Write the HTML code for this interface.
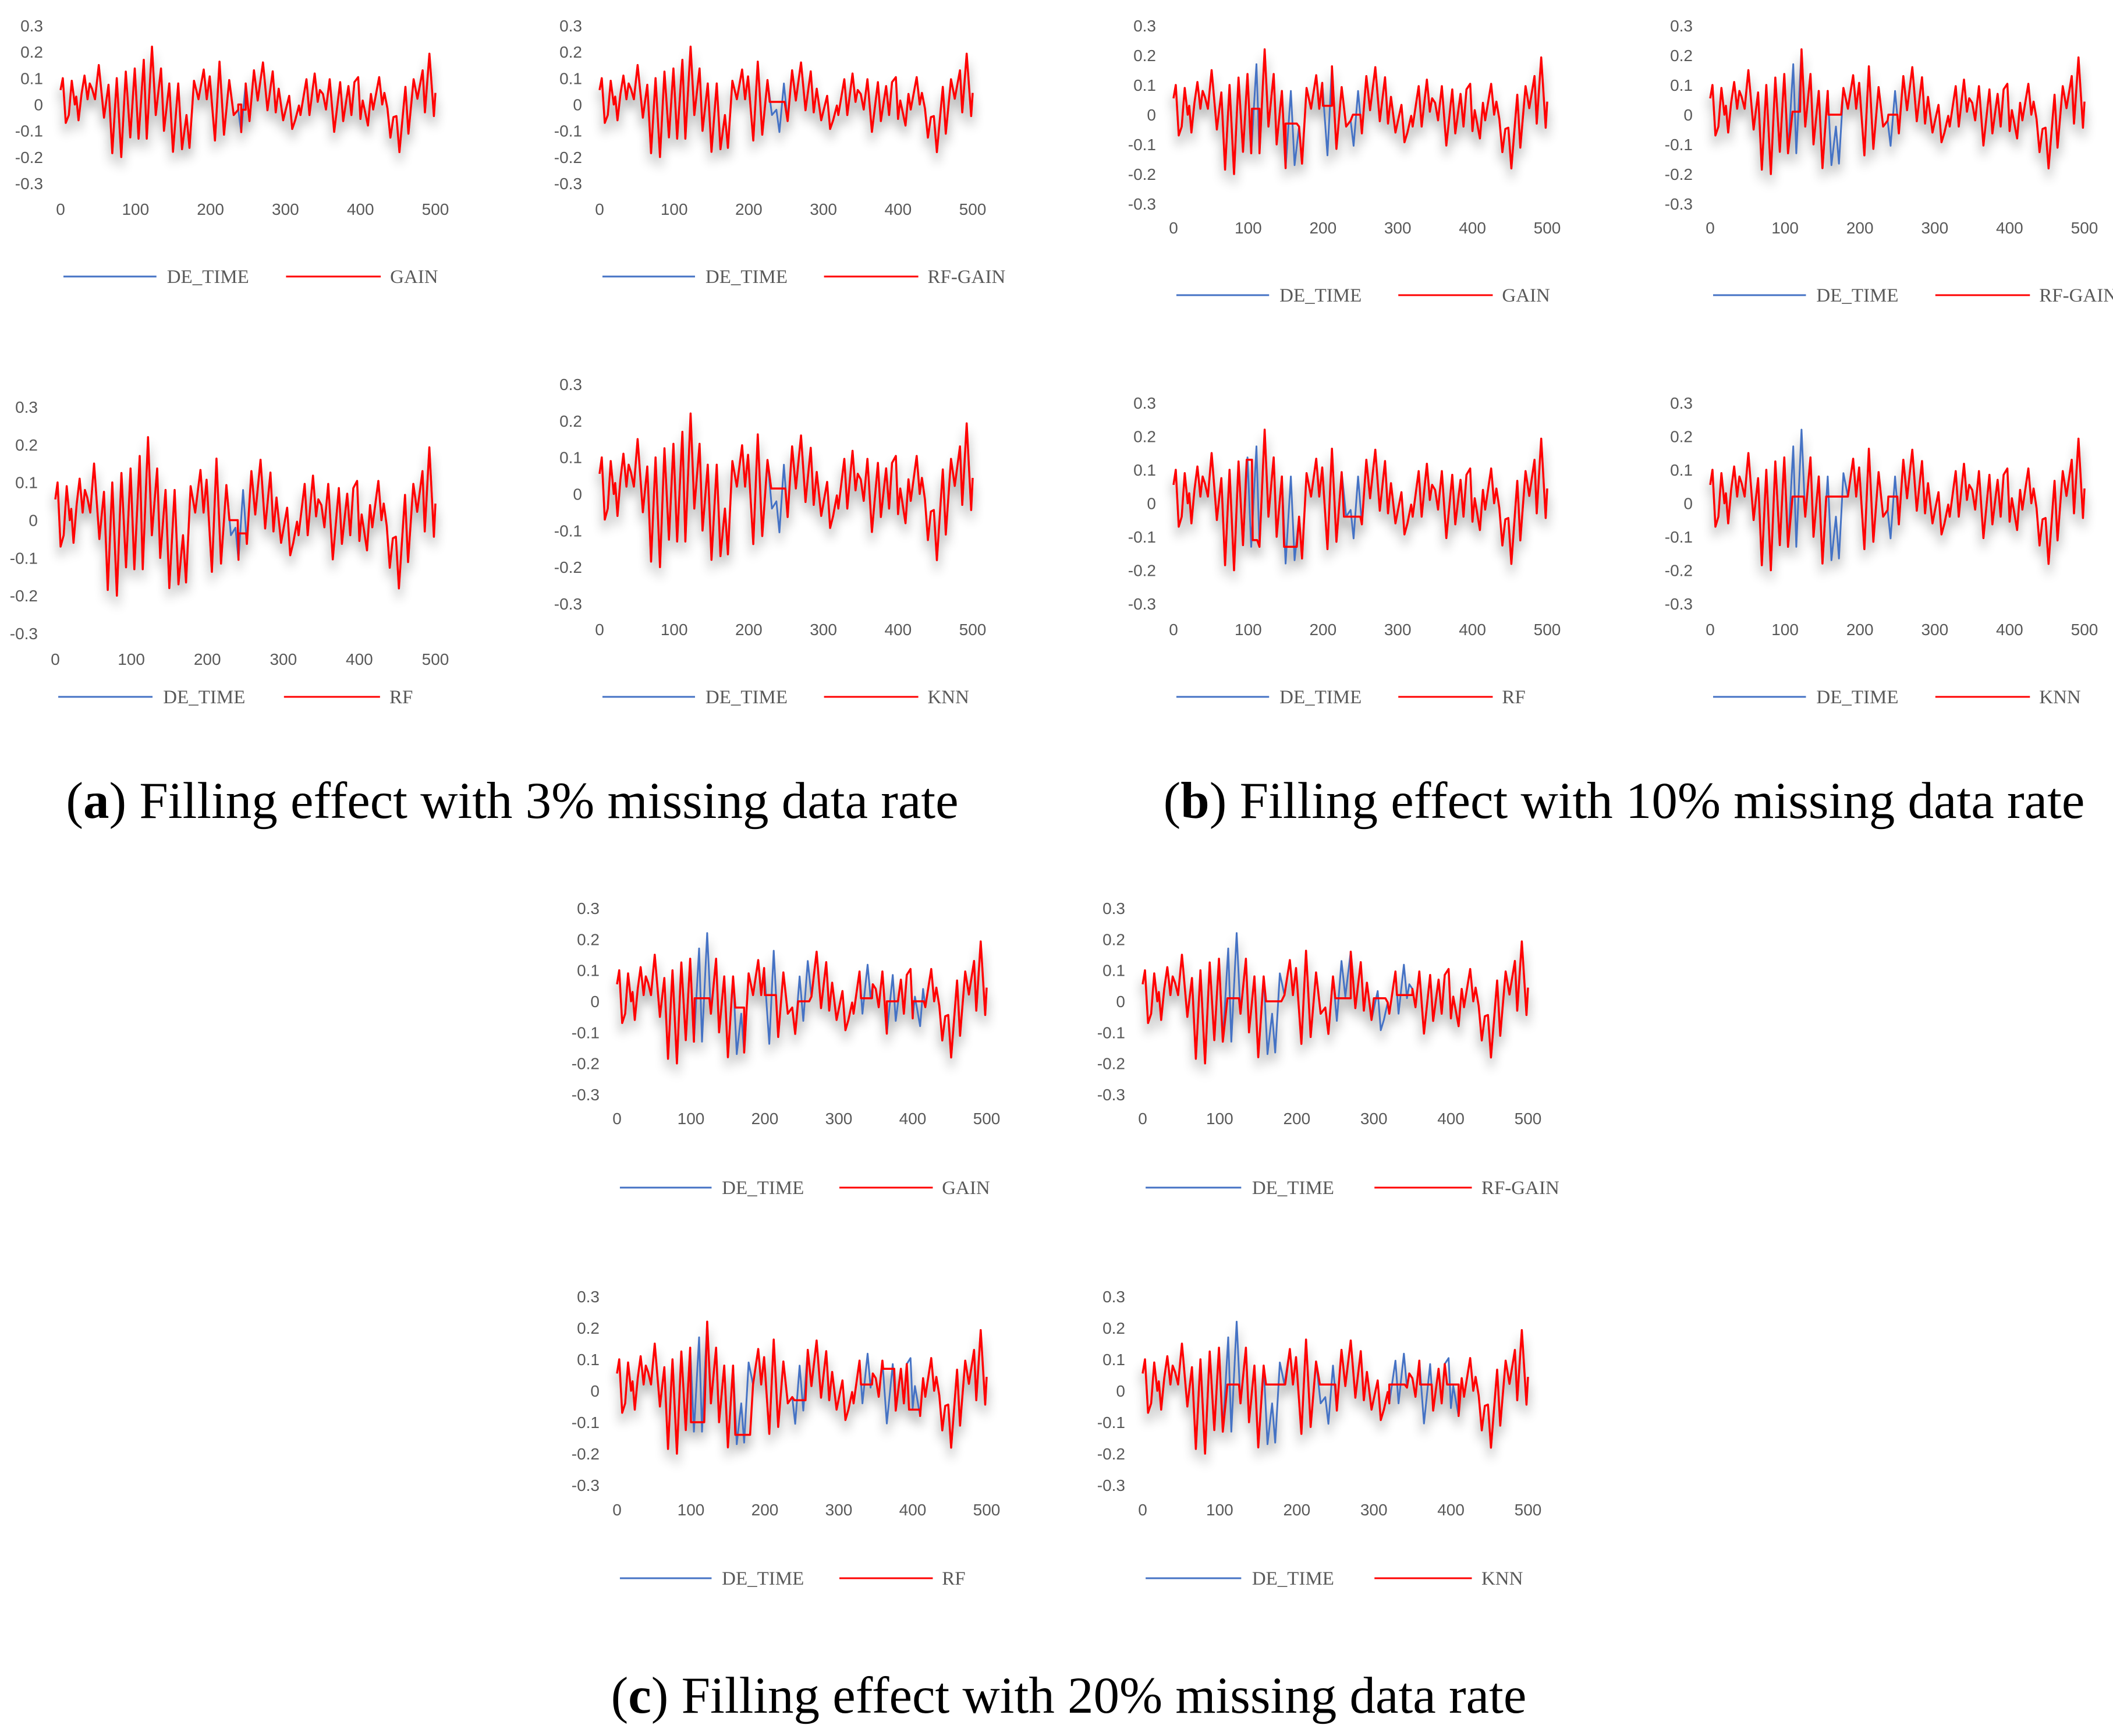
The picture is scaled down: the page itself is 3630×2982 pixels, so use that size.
<!DOCTYPE html>
<html><head><meta charset="utf-8">
<style>
html,body{margin:0;padding:0;background:#fff;}
svg{display:block;}
.tick{font-family:"Liberation Sans",sans-serif;font-size:28px;fill:#595959;}
.leg{font-family:"Liberation Serif",serif;font-size:33px;fill:#595959;}
.cap{font-family:"Liberation Serif",serif;font-size:89px;fill:#000;}
</style></head>
<body>
<svg id="fig" width="3630" height="2982" viewBox="0 0 3630 2982" xmlns="http://www.w3.org/2000/svg">
<defs>
<filter id="shadow" x="-10%" y="-30%" width="120%" height="170%">
<feDropShadow dx="0" dy="16" stdDeviation="9" flood-color="#000" flood-opacity="0.45"/>
</filter>
</defs>
<text class="cap" x="880" y="1405" text-anchor="middle">(<tspan font-weight="bold">a</tspan>) Filling effect with 3% missing data rate</text>
<text class="cap" x="2790" y="1405" text-anchor="middle">(<tspan font-weight="bold">b</tspan>) Filling effect with 10% missing data rate</text>
<text class="cap" x="1836" y="2942" text-anchor="middle">(<tspan font-weight="bold">c</tspan>) Filling effect with 20% missing data rate</text>
</svg>
<script>
// DE_TIME signal (sample index, value)
const sampleX=[0,3,7,11,15,19,21,24,28,32,36,39,42,46,51,58,64,69,75,81,87,93,99,104,111,115,122,127,134,138,145,150,157,162,168,172,178,184,191,195,199,206,212,218,225,231,237,241,247,252,258,263,270,276,283,287,291,297,305,309,313,318,320,328,332,339,343,346,350,354,359,365,373,377,384,388,392,397,400,403,410,414,417,425,429,432,436,440,444,448,452,460,464,471,476,483,486,492,498,500];
const deTime=[0.055,0.10,-0.07,-0.04,0.09,0,0.03,-0.06,0.04,0.11,0.02,0.08,0.06,0.02,0.15,-0.05,0.075,-0.185,0.10,-0.20,0.125,-0.125,0.137,-0.13,0.17,-0.13,0.22,-0.04,0.137,-0.10,0.08,-0.18,0.08,-0.17,-0.04,-0.165,0.09,0.02,0.133,0.02,0.107,-0.137,0.163,-0.115,0.093,-0.04,-0.02,-0.105,0.08,-0.063,0.13,0.015,0.16,-0.022,0.126,-0.03,0.06,-0.06,0.033,-0.093,-0.06,-0.004,-0.04,0.096,-0.04,0.118,0.01,0.055,0.04,-0.019,0.096,-0.104,0.085,-0.063,0.07,-0.04,0.085,0.104,-0.055,0.015,-0.08,0.04,-0.019,0.104,0,0.044,-0.015,-0.126,-0.048,-0.044,-0.181,0.067,-0.111,0.096,0.022,0.13,-0.03,0.193,-0.044,0.044];
const xTicks=[0,100,200,300,400,500];
const yTicks=[0.3,0.2,0.1,0,-0.1,-0.2,-0.3];
const yTickLabels=["0.3","0.2","0.1","0","-0.1","-0.2","-0.3"];
// imputation gaps per chart
const gapStartA1=[237,242], gapEndA1=[241,247], gapValA1=[0.0,-0.02];
const gapStartA2=[228], gapEndA2=[248], gapValA2=[0.01];
const gapStartA3=[229,241], gapEndA3=[240,251], gapValA3=[0.0,-0.035];
const gapStartA4=[230], gapEndA4=[249], gapValA4=[0.015];
const gapStartB1=[105,150,200,240], gapEndB1=[115,165,212,250], gapValB1=[0.02,-0.03,0.03,0.0];
const gapStartB2=[110,158,238], gapEndB2=[120,175,250], gapValB2=[0.01,0.0,0.0];
const gapStartB3=[98,106,148,228], gapEndB3=[105,112,165,250], gapValB3=[0.13,-0.11,-0.13,-0.04];
const gapStartB4=[110,155,238], gapEndB4=[125,180,250], gapValB4=[0.02,0.02,0.02];
const gapStartC1=[105,160,200,245,330,365,400], gapEndC1=[125,172,215,260,345,380,415], gapValC1=[0.01,-0.02,0.02,0.0,0.01,0.0,0.0];
const gapStartC2=[110,160,250,300,330], gapEndC2=[125,180,270,315,350], gapValC2=[0.01,0.0,0.01,0.01,0.02];
const gapStartC3=[100,160,240,330,360,395], gapEndC3=[118,180,255,345,375,410], gapValC3=[-0.1,-0.14,-0.03,0.02,0.07,-0.06];
const gapStartC4=[110,160,230,320,360,395], gapEndC4=[125,185,250,340,375,410], gapValC4=[0.02,0.02,0.02,0.02,0.02,0.02];

const NS="http://www.w3.org/2000/svg";
const fig=document.getElementById('fig');
function mk(tag,attrs,parent){const e=document.createElementNS(NS,tag);for(const k in attrs)e.setAttribute(k,attrs[k]);parent.appendChild(e);return e;}

function drawChart(name,x0,x1,yTop,yBot,xlabY,legY,label,gs,ge,gv){
  const g=mk('g',{},fig);
  
  
  const xs=v=>x0+(v/500)*(x1-x0);
  const ys=v=>yTop+(0.3-v)/0.6*(yBot-yTop);
  yTicks.forEach((t,i)=>{
    const tx=mk('text',{class:'tick',x:x0-30,y:ys(t)+10,'text-anchor':'end'},g);
    
    
    tx.textContent=yTickLabels[i];
  });
  xTicks.forEach(t=>{
    const tx=mk('text',{class:'tick',x:xs(t),y:xlabY+10,'text-anchor':'middle'},g);
    
    
    tx.textContent=String(t);
  });
  let d='';
  sampleX.forEach((s,i)=>{d+=(i?'L':'M')+xs(s).toFixed(1)+' '+ys(deTime[i]).toFixed(1);});
  let pts=[];
  sampleX.forEach((s,i)=>{
    let inGap=false;
    for(let k=0;k<gs.length;k++){if(s>gs[k]&&s<ge[k])inGap=true;}
    if(!inGap)pts.push([s,deTime[i]]);
  });
  for(let k=0;k<gs.length;k++){pts.push([gs[k]+0.01,gv[k]]);pts.push([ge[k]-0.01,gv[k]]);}
  pts.sort((a,b)=>a[0]-b[0]);
  let dr='';
  pts.forEach((p,i)=>{dr+=(i?'L':'M')+xs(p[0]).toFixed(1)+' '+ys(p[1]).toFixed(1);});
  const sg=mk('g',{filter:'url(#shadow)'},g);
  const pb=mk('path',{d:d,fill:'none',stroke:'#4472C4','stroke-width':3,'stroke-linejoin':'round'},sg);
  
  
  const pr=mk('path',{d:dr,fill:'none',stroke:'#FF0000','stroke-width':3.5,'stroke-linejoin':'round'},sg);
  
  
  const w=(x1-x0)/645;
  const l1=mk('line',{x1:x0+5*w,x2:x0+165*w,y1:legY,y2:legY,stroke:'#4472C4','stroke-width':3},g);
  
  
  const t1=mk('text',{class:'leg',x:x0+183*w,y:legY+11},g);
  
  
  t1.textContent='DE_TIME';
  const l2=mk('line',{x1:x0+388*w,x2:x0+551*w,y1:legY,y2:legY,stroke:'#FF0000','stroke-width':3},g);
  
  
  const t2=mk('text',{class:'leg',x:x0+567*w,y:legY+11},g);
  
  
  t2.textContent=label;
}
drawChart('chart-a-gain',104,748,44,315,359,475,'GAIN',gapStartA1,gapEndA1,gapValA1);
drawChart('chart-a-rf-gain',1030,1671,44,315,359,475,'RF-GAIN',gapStartA2,gapEndA2,gapValA2);
drawChart('chart-a-rf',95,748,699,1088,1132,1197,'RF',gapStartA3,gapEndA3,gapValA3);
drawChart('chart-a-knn',1030,1671,660,1037,1081,1197,'KNN',gapStartA4,gapEndA4,gapValA4);
drawChart('chart-b-gain',2016,2658,44,350,391,507,'GAIN',gapStartB1,gapEndB1,gapValB1);
drawChart('chart-b-rf-gain',2938,3581,44,350,391,507,'RF-GAIN',gapStartB2,gapEndB2,gapValB2);
drawChart('chart-b-rf',2016,2658,692,1037,1081,1197,'RF',gapStartB3,gapEndB3,gapValB3);
drawChart('chart-b-knn',2938,3581,692,1037,1081,1197,'KNN',gapStartB4,gapEndB4,gapValB4);
drawChart('chart-c-gain',1060,1695,1560,1880,1921,2040,'GAIN',gapStartC1,gapEndC1,gapValC1);
drawChart('chart-c-rf-gain',1963,2625,1560,1880,1921,2040,'RF-GAIN',gapStartC2,gapEndC2,gapValC2);
drawChart('chart-c-rf',1060,1695,2227,2551,2593,2711,'RF',gapStartC3,gapEndC3,gapValC3);
drawChart('chart-c-knn',1963,2625,2227,2551,2593,2711,'KNN',gapStartC4,gapEndC4,gapValC4);
</script>
</body></html>
